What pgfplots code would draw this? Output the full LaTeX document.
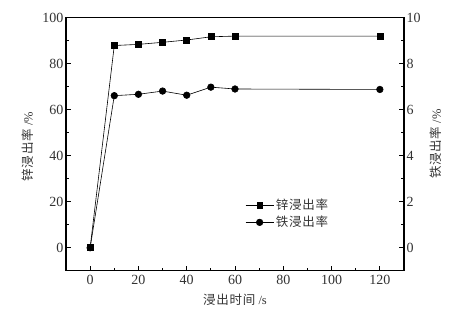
\documentclass[border=0pt]{standalone}
\usepackage{fontspec}
\setmainfont{Liberation Serif}
\newfontfamily\cjk[LetterSpace=6]{Noto Sans CJK SC}
\usepackage{pgfplots}
\pgfplotsset{compat=1.18}
\definecolor{txt}{gray}{0.2}
\newcommand{\lbl}{\fontsize{12.5bp}{14bp}\selectfont}
\pgfplotsset{
  common/.style={
    width=338bp, height=253bp, scale only axis,
    xmin=-10, xmax=130,
    tick align=inside,
    axis line style={line width=1.3pt},
    major tick length=5bp, minor tick length=3bp,
    every tick/.style={line width=0.8pt, black},
    tick label style={font=\fontsize{14bp}{16bp}\selectfont, text=txt},
    /pgf/number format/assume math mode=true,
    clip=false,
  },
}
\begin{document}
\begin{tikzpicture}
\begin{axis}[common,
  ymin=-10, ymax=100,
  xtick={0,20,...,120}, ytick={0,20,...,100},
  minor x tick num=1, minor y tick num=1,
  xtick pos=left, ytick pos=left,
  xticklabel style={yshift=-1bp},
  yticklabel style={xshift=1bp},
  xlabel={\lbl{\cjk 浸出时间} /s},
  ylabel={\lbl{\cjk 锌浸出率} /\%},
  every axis x label/.style={at={(rel axis cs:0.5,-0.115)}, anchor=center, text=txt, font=\lbl},
  every axis y label/.style={at={(rel axis cs:-0.113,0.49)}, rotate=90, anchor=center, text=txt, font=\lbl},
]
\addplot[black, line width=0.6pt, mark=square*, mark size=3bp] coordinates {
 (0,0) (10,87.9) (20,88.4) (30,89.3) (40,90.3) (50,91.7) (60,92.0) (120,92.0)};
\end{axis}
\begin{axis}[common,
  ymin=-1, ymax=10,
  axis x line=none, axis y line*=right,
  ytick={0,2,...,10},
  minor y tick num=1,
  yticklabel style={xshift=-1bp},
  ylabel={\lbl{\cjk 铁浸出率} /\%},
  every axis y label/.style={at={(rel axis cs:1.095,0.5)}, rotate=90, anchor=center, text=txt, font=\lbl},
  legend style={at={(rel axis cs:0.53,0.291)}, anchor=north west, draw=none, fill=none,
    font=\cjk\fontsize{12.5bp}{14bp}\selectfont, text=txt,
    row sep=1bp, inner sep=0pt},
  legend cell align=left,
  legend image code/.code={
    \draw[mark repeat=2,mark phase=2,#1] plot coordinates {(0bp,0bp) (14bp,0bp) (28bp,0bp)};},
]
\addlegendimage{black, line width=0.6pt, mark=square*, mark size=2.6bp}
\addlegendentry{锌浸出率}
\addplot[black, line width=0.6pt, mark=*, mark size=3.3bp] coordinates {
 (0,0) (10,6.61) (20,6.67) (30,6.81) (40,6.63) (50,6.98) (60,6.90) (120,6.88)};
\addlegendentry{铁浸出率}
\end{axis}
\pgfresetboundingbox
\useasboundingbox (-66bp,-43.3bp) rectangle (392bp,270.7bp);
\end{tikzpicture}
\end{document}
